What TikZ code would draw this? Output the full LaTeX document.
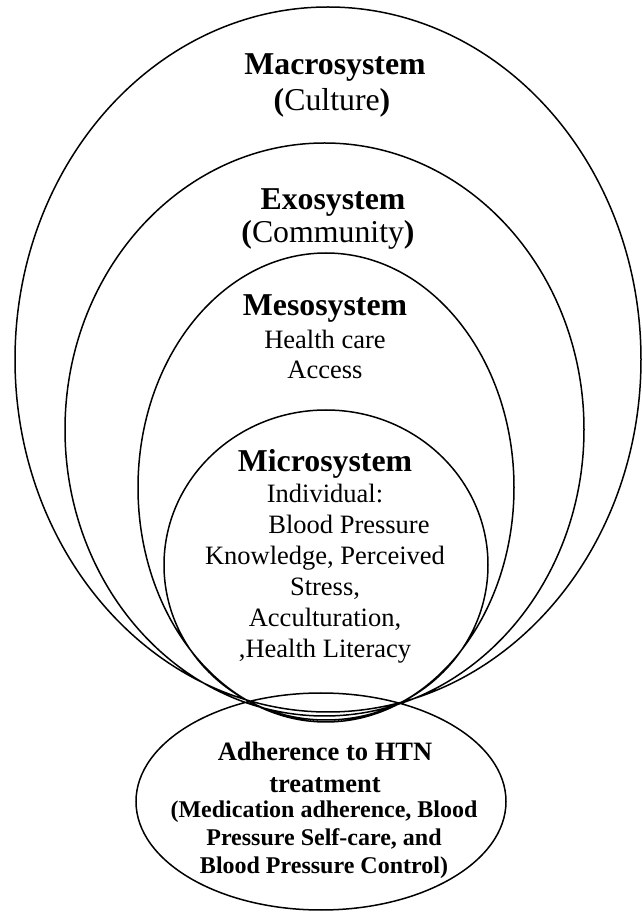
\documentclass[tikz,border=0pt]{standalone}
\usepackage{fontspec}
\setmainfont{Liberation Serif}
\tikzset{
  ring/.style={draw,line width=0.75pt},
  title/.style={anchor=base,inner sep=0pt,font=\fontsize{15.9}{18}\selectfont\bfseries},
  subtitle/.style={anchor=base,inner sep=0pt,font=\fontsize{15.9}{18}\selectfont},
  body/.style={align=center,inner sep=0pt,font=\fontsize{13.25}{15.5}\selectfont},
}
\begin{document}
\begin{tikzpicture}[x=0.5pt,y=0.5pt]
  \useasboundingbox (0,0) rectangle (642,912);
  \draw[ring] (328,552.5) ellipse [x radius=313,y radius=352.5]
              (324.5,482.5) ellipse [x radius=259.5,y radius=286.5]
              (326,424.5) ellipse [x radius=188,y radius=234.5]
              (326,347) ellipse [x radius=162,y radius=155]
              (321,110.5) ellipse [x radius=185,y radius=108.5];
  \node[title] (macro) at (335,837) {Macrosystem};
  \node[subtitle] (culture) at (332,801) {\textbf{(}Culture\textbf{)}};
  \node[title] (exo) at (333,702) {Exosystem};
  \node[subtitle] (community) at (328,669) {\textbf{(}Community\textbf{)}};
  \node[title] (meso) at (325,596) {Mesosystem};
  \node[body,font=\fontsize{13.25}{15}\selectfont] (access) at (325,558) {Health care\\Access};
  \node[title] (micro) at (325,440) {Microsystem};
  \node[body] (individual) at (325,338.5) {Individual:\\\hspace*{24pt}Blood Pressure\\Knowledge, Perceived\\Stress,\\Acculturation,\\,Health Literacy};
  \node[body,font=\fontsize{13.25}{16}\selectfont\bfseries] (adherence) at (325,145) {Adherence to HTN\\treatment};
  \node[body,font=\fontsize{12}{14}\selectfont\bfseries] (outcomes) at (324,72.5) {(Medication adherence, Blood\\Pressure Self-care, and\\Blood Pressure Control)};
\end{tikzpicture}
\end{document}
